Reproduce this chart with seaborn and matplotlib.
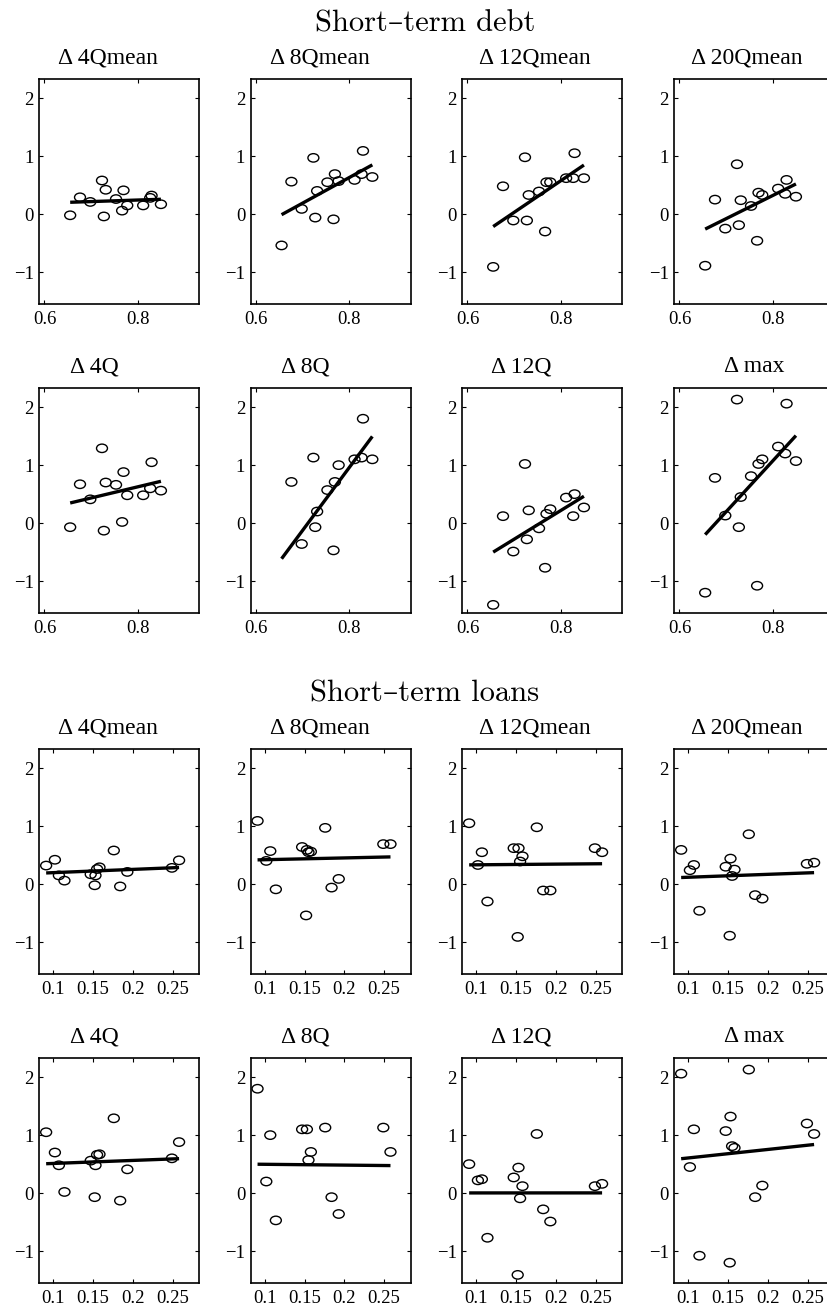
import numpy as np
import matplotlib
matplotlib.use("Agg")
import matplotlib.pyplot as plt
from matplotlib.path import Path
from matplotlib.transforms import Affine2D
import seaborn as sns

# ---------------------------------------------------------------------------
# Data: one entry per country, same order in every list
# ---------------------------------------------------------------------------
debt_share = [0.655, 0.676, 0.698, 0.723, 0.727, 0.731, 0.753,
              0.766, 0.769, 0.777, 0.811, 0.826, 0.829, 0.849]
loan_share = [0.152, 0.158, 0.193, 0.176, 0.184, 0.102, 0.155,
              0.114, 0.258, 0.107, 0.153, 0.249, 0.091, 0.147]

d_4qmean = [-0.02, 0.29, 0.21, 0.58, -0.04, 0.42, 0.26,
            0.06, 0.41, 0.15, 0.15, 0.28, 0.32, 0.17]
d_8qmean = [-0.54, 0.56, 0.09, 0.97, -0.06, 0.40, 0.55,
            -0.09, 0.69, 0.57, 0.59, 0.69, 1.09, 0.64]
d_12qmean = [-0.91, 0.48, -0.11, 0.98, -0.11, 0.33, 0.39,
             -0.30, 0.55, 0.55, 0.62, 0.62, 1.05, 0.62]
d_20qmean = [-0.89, 0.25, -0.25, 0.86, -0.19, 0.24, 0.14,
             -0.46, 0.37, 0.33, 0.44, 0.35, 0.59, 0.30]
d_4q = [-0.07, 0.67, 0.41, 1.29, -0.13, 0.70, 0.66,
        0.02, 0.88, 0.48, 0.48, 0.60, 1.05, 0.56]
d_8q = [-1.71, 0.71, -0.36, 1.13, -0.07, 0.20, 0.57,
        -0.47, 0.71, 1.00, 1.10, 1.13, 1.80, 1.10]
d_12q = [-1.41, 0.12, -0.49, 1.02, -0.28, 0.22, -0.09,
         -0.77, 0.16, 0.24, 0.44, 0.12, 0.50, 0.27]
d_max = [-1.20, 0.78, 0.13, 2.13, -0.07, 0.45, 0.81,
         -1.08, 1.02, 1.10, 1.32, 1.20, 2.06, 1.07]

outcome_labels = ["Δ 4Qmean", "Δ 8Qmean", "Δ 12Qmean", "Δ 20Qmean",
                  "Δ 4Q", "Δ 8Q", "Δ 12Q", "Δ max"]
group_titles = ["Short–term debt", "Short–term loans"]

debt_ticks = [0.6, 0.8]
debt_tick_labels = ["0.6", "0.8"]
loan_ticks = [0.1, 0.15, 0.2, 0.25]
loan_tick_labels = ["0.1", "0.15", "0.2", "0.25"]
y_ticks = [-1, 0, 1, 2]
y_tick_labels = ["\u22121", "0", "1", "2"]

# ---------------------------------------------------------------------------
# Styling
# ---------------------------------------------------------------------------
sns.set_theme(style="ticks")
plt.rcParams.update({
    "font.family": ["Liberation Serif", "DejaVu Serif"],
    "xtick.direction": "in",
    "ytick.direction": "in",
    "xtick.top": True,
    "ytick.right": True,
    "xtick.major.size": 3,
    "ytick.major.size": 3,
    "xtick.major.width": 0.8,
    "ytick.major.width": 0.8,
    "xtick.major.pad": 5,
    "ytick.major.pad": 4,
    "xtick.labelsize": 13.5,
    "ytick.labelsize": 13.5,
    "axes.linewidth": 1.2,
    "axes.edgecolor": "black",
    "xtick.color": "black",
    "ytick.color": "black",
    "text.color": "black",
    "axes.facecolor": "white",
    "figure.facecolor": "white",
})

W, H = 828, 1310
fig = plt.figure(figsize=(W / 100, H / 100), dpi=100)

# panel geometry in pixels
col_left = [39.3, 250.7, 462.3, 674.3]
row_top = [79, 388, 749, 1058]
ax_w, ax_h = 160, 225
title_shift = [-11, -11, -7, -8, -25, -25, -21, 0]
heading_baseline = [31, 701]
heading_center = 425

# open, slightly wide oval marker
oval = Path.unit_circle().transformed(Affine2D().scale(1.3, 1.0))

outcomes = [d_4qmean, d_8qmean, d_12qmean, d_20qmean,
            d_4q, d_8q, d_12q, d_max]
groups = [
    (debt_share, debt_ticks, debt_tick_labels, (0.589, 0.931)),
    (loan_share, loan_ticks, loan_tick_labels, (0.0824, 0.2834)),
]

for g, (xvals, xt, xtl, xlim) in enumerate(groups):
    fig.text(heading_center / W, 1 - heading_baseline[g] / H, group_titles[g],
             ha="center", va="baseline", fontsize=22,
             family=["cmr10", "DejaVu Serif"])
    for k, yvals in enumerate(outcomes):
        row = 2 * g + k // 4
        col = k % 4
        left = col_left[col]
        top = row_top[row]
        ax = fig.add_axes([left / W, 1 - (top + ax_h) / H, ax_w / W, ax_h / H])
        sns.regplot(
            x=np.asarray(xvals), y=np.asarray(yvals), ax=ax,
            ci=None, truncate=True, color="black", marker=oval,
            scatter_kws=dict(s=62, facecolors="none", edgecolors="black",
                             linewidths=1.0, alpha=1),
            line_kws=dict(color="black", lw=2.4, solid_capstyle="butt"),
        )
        ax.set_xlim(*xlim)
        ax.set_ylim(-1.55, 2.33)
        ax.set_xticks(xt, xtl)
        ax.set_yticks(y_ticks, y_tick_labels)
        ax.set_xlabel("")
        ax.set_ylabel("")
        for sp in ax.spines.values():
            sp.set_visible(True)
            sp.set_linewidth(1.2)
        ax.set_title(outcome_labels[k], fontsize=17, pad=11.5,
                     x=0.5 + title_shift[k] / ax_w)

fig.savefig("out.png", dpi=100)
